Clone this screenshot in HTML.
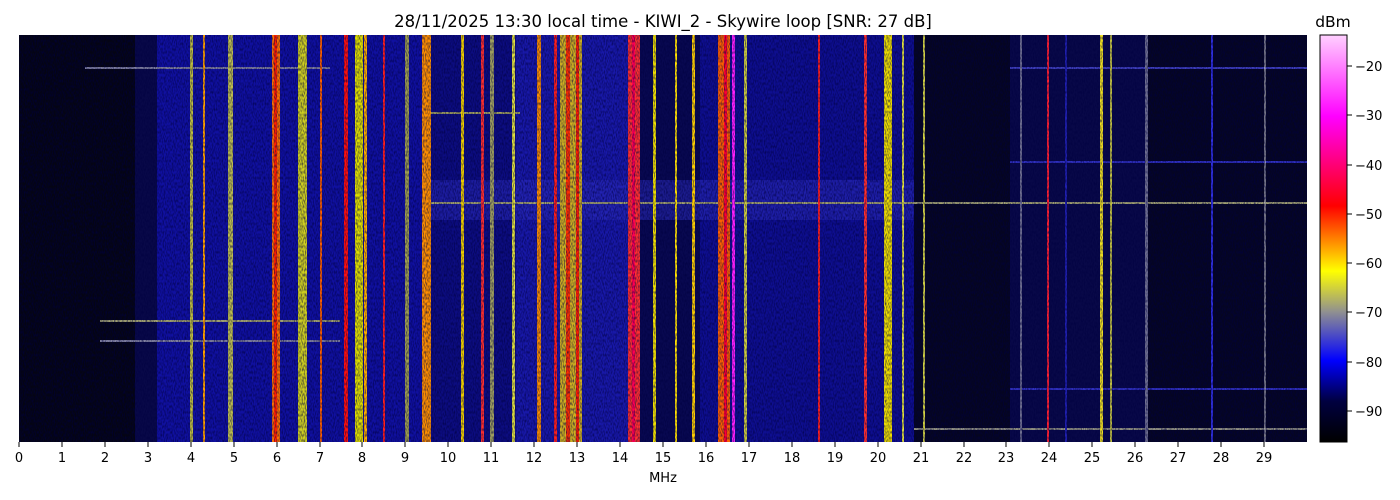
<!DOCTYPE html>
<html><head><meta charset="utf-8"><style>
html,body{margin:0;padding:0;background:#fff;}
svg{display:block;font-family:"DejaVu Sans","Liberation Sans",sans-serif;}
</style></head><body>
<svg width="1400" height="500" viewBox="0 0 1400 500" xmlns="http://www.w3.org/2000/svg">
<defs>
<linearGradient id="cb" x1="0" y1="1" x2="0" y2="0">
<stop offset="0" stop-color="#000000"/>
<stop offset="0.1" stop-color="#000040"/>
<stop offset="0.2" stop-color="#0000ff"/>
<stop offset="0.32" stop-color="#909090"/>
<stop offset="0.42" stop-color="#ffff00"/>
<stop offset="0.58" stop-color="#ff0000"/>
<stop offset="0.8" stop-color="#ff00ff"/>
<stop offset="1" stop-color="#ffd0ff"/>
</linearGradient>
<filter id="noise" x="0" y="0" width="100%" height="100%">
<feTurbulence type="fractalNoise" baseFrequency="0.9 0.35" numOctaves="1" seed="3"/>
<feColorMatrix values="0 0 0 0 0  0 0 0 0 0  0 0 0 0 0.05  0 0 0 1.6 -0.6"/>
</filter>
<clipPath id="pc"><rect x="19" y="35" width="1288" height="407"/></clipPath>
</defs>
<text x="663" y="27" font-size="16.5" text-anchor="middle">28/11/2025 13:30 local time - KIWI_2 - Skywire loop [SNR: 27 dB]</text>
<g clip-path="url(#pc)">
<rect x="19" y="35" width="1288" height="407" fill="#040414"/>
<rect x="135" y="35" width="22" height="407" fill="#080848"/>
<rect x="157" y="35" width="273" height="407" fill="#1010a0"/>
<rect x="430" y="35" width="86" height="407" fill="#0c0c80"/>
<rect x="516" y="35" width="116" height="407" fill="#1818a8"/>
<rect x="632" y="35" width="68" height="407" fill="#080850"/>
<rect x="700" y="35" width="214" height="407" fill="#0e0e90"/>
<rect x="914" y="35" width="96" height="407" fill="#050520"/>
<rect x="1010" y="35" width="135" height="407" fill="#080848"/>
<rect x="1145" y="35" width="162" height="407" fill="#050522"/>
<rect x="430" y="180" width="484" height="40" fill="#2a2ab8" opacity="0.6"/>
<g stroke-width="2">
<line x1="85" y1="68" x2="330" y2="68" stroke="#8080a0"/>
<line x1="1010" y1="68" x2="1307" y2="68" stroke="#4040c0"/>
<line x1="430" y1="203" x2="1307" y2="203" stroke="#a0a070"/>
<line x1="100" y1="321" x2="340" y2="321" stroke="#a0a070"/>
<line x1="100" y1="341" x2="340" y2="341" stroke="#8080a0"/>
<line x1="430" y1="113" x2="520" y2="113" stroke="#a0a060"/>
<line x1="914" y1="429" x2="1307" y2="429" stroke="#909080"/>
<line x1="1010" y1="162" x2="1307" y2="162" stroke="#3030c0"/>
<line x1="1010" y1="389" x2="1307" y2="389" stroke="#3030c0"/>
</g>
<g>
<rect x="190" y="35" width="3" height="407" fill="#c0c040"/>
<rect x="203" y="35" width="2" height="407" fill="#ffa000"/>
<rect x="228" y="35" width="5" height="407" fill="#c0c050"/>
<rect x="272" y="35" width="8" height="407" fill="#ff7000"/>
<rect x="274" y="35" width="3" height="407" fill="#ff2000"/>
<rect x="298" y="35" width="9" height="407" fill="#d0d020"/>
<rect x="320" y="35" width="2" height="407" fill="#ff6000"/>
<rect x="344" y="35" width="4" height="407" fill="#ff1010"/>
<rect x="355" y="35" width="8" height="407" fill="#e0e000"/>
<rect x="364" y="35" width="3" height="407" fill="#ffb000"/>
<rect x="383" y="35" width="2" height="407" fill="#ff2020"/>
<rect x="405" y="35" width="4" height="407" fill="#a0a050"/>
<rect x="422" y="35" width="9" height="407" fill="#ff9000"/>
<rect x="461" y="35" width="3" height="407" fill="#f0d000"/>
<rect x="481" y="35" width="3" height="407" fill="#ff3030"/>
<rect x="490" y="35" width="4" height="407" fill="#a0a060"/>
<rect x="512" y="35" width="3" height="407" fill="#e0e040"/>
<rect x="537" y="35" width="4" height="407" fill="#ff9000"/>
<rect x="554" y="35" width="3" height="407" fill="#ff2020"/>
<rect x="560" y="35" width="22" height="407" fill="#d0b020"/>
<rect x="566" y="35" width="4" height="407" fill="#ff3000"/>
<rect x="576" y="35" width="3" height="407" fill="#ff2000"/>
<rect x="628" y="35" width="12" height="407" fill="#ff3030"/>
<rect x="632" y="35" width="3" height="407" fill="#ff0050"/>
<rect x="653" y="35" width="3" height="407" fill="#f0e000"/>
<rect x="675" y="35" width="2" height="407" fill="#ffe000"/>
<rect x="692" y="35" width="3" height="407" fill="#ffd000"/>
<rect x="718" y="35" width="12" height="407" fill="#ff6000"/>
<rect x="724" y="35" width="3" height="407" fill="#ff0030"/>
<rect x="732" y="35" width="3" height="407" fill="#ff20ff"/>
<rect x="744" y="35" width="3" height="407" fill="#d0d040"/>
<rect x="818" y="35" width="2" height="407" fill="#ff2020"/>
<rect x="864" y="35" width="3" height="407" fill="#ff3030"/>
<rect x="884" y="35" width="8" height="407" fill="#f0e000"/>
<rect x="902" y="35" width="2" height="407" fill="#e0e040"/>
<rect x="923" y="35" width="2" height="407" fill="#d0d040"/>
<rect x="1047" y="35" width="2" height="407" fill="#ff2030"/>
<rect x="1100" y="35" width="3" height="407" fill="#f0e020"/>
<rect x="1110" y="35" width="2" height="407" fill="#c0c040"/>
<rect x="1145" y="35" width="3" height="407" fill="#707090"/>
<rect x="1211" y="35" width="2" height="407" fill="#3030e0"/>
<rect x="1264" y="35" width="2" height="407" fill="#e0e0e0" opacity="0.5"/>
<rect x="1020" y="35" width="2" height="407" fill="#707090"/>
<rect x="1065" y="35" width="2" height="407" fill="#2020b0"/>
</g>
<rect x="19" y="35" width="1288" height="407" filter="url(#noise)"/>
</g>
<g stroke="#000">
<line x1="19" y1="442" x2="19" y2="447"/><line x1="62" y1="442" x2="62" y2="447"/><line x1="105" y1="442" x2="105" y2="447"/><line x1="148" y1="442" x2="148" y2="447"/><line x1="191" y1="442" x2="191" y2="447"/><line x1="234" y1="442" x2="234" y2="447"/><line x1="277" y1="442" x2="277" y2="447"/><line x1="320" y1="442" x2="320" y2="447"/><line x1="362" y1="442" x2="362" y2="447"/><line x1="405" y1="442" x2="405" y2="447"/><line x1="448" y1="442" x2="448" y2="447"/><line x1="491" y1="442" x2="491" y2="447"/><line x1="534" y1="442" x2="534" y2="447"/><line x1="577" y1="442" x2="577" y2="447"/><line x1="620" y1="442" x2="620" y2="447"/><line x1="663" y1="442" x2="663" y2="447"/><line x1="706" y1="442" x2="706" y2="447"/><line x1="749" y1="442" x2="749" y2="447"/><line x1="792" y1="442" x2="792" y2="447"/><line x1="835" y1="442" x2="835" y2="447"/><line x1="878" y1="442" x2="878" y2="447"/><line x1="921" y1="442" x2="921" y2="447"/><line x1="964" y1="442" x2="964" y2="447"/><line x1="1006" y1="442" x2="1006" y2="447"/><line x1="1049" y1="442" x2="1049" y2="447"/><line x1="1092" y1="442" x2="1092" y2="447"/><line x1="1135" y1="442" x2="1135" y2="447"/><line x1="1178" y1="442" x2="1178" y2="447"/><line x1="1221" y1="442" x2="1221" y2="447"/><line x1="1264" y1="442" x2="1264" y2="447"/>
</g>
<g font-size="13" text-anchor="middle" fill="#000">
<text x="19" y="462">0</text><text x="62" y="462">1</text><text x="105" y="462">2</text><text x="148" y="462">3</text><text x="191" y="462">4</text><text x="234" y="462">5</text><text x="277" y="462">6</text><text x="320" y="462">7</text><text x="362" y="462">8</text><text x="405" y="462">9</text><text x="448" y="462">10</text><text x="491" y="462">11</text><text x="534" y="462">12</text><text x="577" y="462">13</text><text x="620" y="462">14</text><text x="663" y="462">15</text><text x="706" y="462">16</text><text x="749" y="462">17</text><text x="792" y="462">18</text><text x="835" y="462">19</text><text x="878" y="462">20</text><text x="921" y="462">21</text><text x="964" y="462">22</text><text x="1006" y="462">23</text><text x="1049" y="462">24</text><text x="1092" y="462">25</text><text x="1135" y="462">26</text><text x="1178" y="462">27</text><text x="1221" y="462">28</text><text x="1264" y="462">29</text>
<text x="663" y="482">MHz</text>
</g>
<rect x="1320" y="35" width="27" height="407" fill="url(#cb)" stroke="#000" stroke-width="1"/>
<text x="1333" y="27" font-size="15.5" text-anchor="middle">dBm</text>
<g stroke="#000">
<line x1="1347" y1="66" x2="1352" y2="66"/><line x1="1347" y1="115" x2="1352" y2="115"/><line x1="1347" y1="165" x2="1352" y2="165"/><line x1="1347" y1="214" x2="1352" y2="214"/><line x1="1347" y1="263" x2="1352" y2="263"/><line x1="1347" y1="312" x2="1352" y2="312"/><line x1="1347" y1="362" x2="1352" y2="362"/><line x1="1347" y1="411" x2="1352" y2="411"/>
</g>
<g font-size="13" fill="#000">
<text x="1355" y="71">−20</text><text x="1355" y="120">−30</text><text x="1355" y="170">−40</text><text x="1355" y="219">−50</text><text x="1355" y="268">−60</text><text x="1355" y="317">−70</text><text x="1355" y="367">−80</text><text x="1355" y="416">−90</text>
</g>
</svg>
</body></html>
